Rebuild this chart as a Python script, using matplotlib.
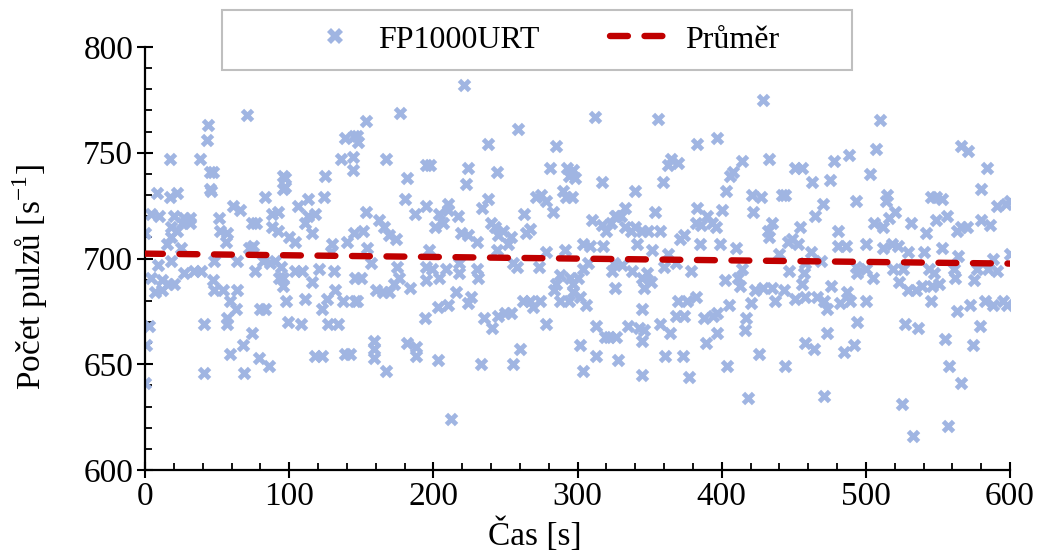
import matplotlib
matplotlib.use('Agg')
import matplotlib.pyplot as plt
from matplotlib.ticker import MultipleLocator
from matplotlib.patches import Rectangle
from matplotlib.lines import Line2D

plt.rcParams['font.family'] = ['Liberation Serif', 'DejaVu Serif']
plt.rcParams['mathtext.fontset'] = 'custom'
plt.rcParams['mathtext.rm'] = 'Liberation Serif'

# ---- data: (time [s], count [1/s]) ----
time_s = [
    0, 0, 1, 2.5, 4.5, 8, 10, 9, 4, 7, 12, 17, 17, 22, 18, 18, 18, 16, 12, 20, 22, 25, 27, 31, 26, 31, 15, 20, 27, 34, 38, 41, 41, 45, 45, 44, 43, 39, 48,
    70.5, 47, 46, 96, 96, 83, 61, 66, 88, 92, 51, 74, 77, 52, 57, 88, 92, 56, 72, 75, 82, 87, 90, 64, 48, 76, 94, 93, 47, 54, 64, 59, 63, 80, 83, 96, 57, 57, 74, 68, 59, 79, 86, 69,
    139, 145, 136, 144, 144, 125, 97, 97, 124, 106, 113, 118, 113, 116, 111, 100, 104, 130, 140, 145, 129, 104, 109, 121, 131, 96, 116, 146, 98, 111, 132, 126, 137, 123, 99, 108, 127, 134, 146, 118, 123, 139, 142,
    177, 153, 147, 148, 167, 195, 182, 180, 187, 195, 153, 162, 166, 151, 154, 169, 174, 157, 150, 175, 176, 173, 195, 195, 184, 160, 165, 169, 147, 194, 159, 159, 159, 182, 188, 188, 167,
    221.5, 237.7, 198, 224, 223, 244, 210, 210, 204, 207, 201, 238, 234, 217, 240, 243, 245, 219, 224, 230, 197, 244, 218, 218, 230, 231, 199, 204, 209, 216, 226, 224, 203, 210, 235, 241, 245, 203, 233, 212,
    258.7, 285, 281, 293, 294, 290, 292, 271, 275, 278, 263, 283, 267, 264, 248, 254, 252, 291, 278, 255, 258, 273, 288, 285, 284, 295, 262, 267, 274, 269, 288, 294, 250, 254, 278, 260, 255,
    312, 297, 298, 296, 317, 340, 333, 327, 310, 317, 320, 323, 326, 330, 333, 337, 340, 345, 341, 304, 309, 318, 307, 304, 300, 297, 324, 325, 331, 338, 345, 326, 297, 302, 306, 345, 313, 319, 322, 327, 335, 343, 345, 302, 313, 328, 304, 345,
    356, 383, 397, 365, 370, 363, 359, 354, 383, 390, 393, 386, 396, 382, 349, 357, 374, 371, 385, 352, 363, 360, 368, 379, 348, 351, 346, 370, 376, 382, 368, 374, 388, 394, 357, 364, 346, 389, 361, 373, 377,
    429, 433, 414, 408, 406, 403, 421, 427, 442, 444, 422, 400, 435, 432, 433, 446, 399, 410, 440, 414, 402, 411, 413, 423, 429, 435, 443, 420, 437, 397, 405, 417, 416, 397, 426, 404, 444, 418,
    488.5, 478, 451, 456, 463, 475, 493, 470, 465, 481, 454, 449, 453, 481, 486, 462, 458, 469, 493, 494, 447, 457, 456, 476, 451, 458, 466, 471, 473, 482, 489, 487, 494, 473, 458, 464, 485, 492, 471,
    509.6, 507, 503, 515, 514, 520, 545, 506, 512, 516, 531, 542, 500, 512, 518, 522, 529, 540, 500, 505, 519, 526, 544, 523, 529, 535, 539, 545, 500, 527, 536, 525, 533,
    566, 571, 584, 580, 591, 597, 600, 549, 553, 556, 549, 566, 570, 563, 580, 586, 553, 564, 588, 600, 577, 575, 547, 551, 546, 561, 562, 591, 585, 583, 588, 595, 598, 572, 563, 579, 574, 555, 558, 566, 557,
]
counts = [
    712, 641, 659, 668, 721, 731, 720, 697, 691, 684, 690, 747, 729, 731, 715, 699, 710, 688, 685, 720, 713, 705, 719, 719, 717, 717, 707, 688, 693, 694, 747, 669, 646, 741, 733, 763, 756, 694, 685,
    768, 741, 732, 739, 733, 729, 725, 723, 721, 722, 719, 717, 717, 713, 712, 715, 713, 708, 705, 706, 699, 698, 699, 699, 699, 694, 696, 691, 690, 685, 685, 680, 676, 676, 676, 687, 669, 672, 665, 659, 655, 653, 649, 646,
    757, 758, 747, 748, 742, 739, 738, 734, 729, 725, 728, 721, 720, 712, 717, 710, 708, 707, 708, 712, 703, 694, 694, 695, 694, 691, 689, 691, 680, 681, 685, 681, 680, 676, 670, 669, 669, 669, 680, 654, 654, 655, 655,
    769, 765, 758, 755, 747, 744, 738, 728, 721, 725, 722, 718, 715, 713, 705, 711, 709, 698, 691, 696, 691, 688, 696, 690, 686, 685, 684, 684, 680, 672, 661, 657, 653, 660, 658, 654, 647,
    782, 754, 744, 743, 735, 741, 726, 723, 721, 717, 715, 728, 724, 720, 717, 715, 711, 712, 711, 708, 704, 704, 698, 693, 695, 691, 695, 691, 695, 684, 682, 679, 677, 678, 672, 667, 673, 652, 650, 624,
    761, 753, 743, 743, 739, 732, 729, 729, 730, 727, 721, 722, 714, 712, 713, 710, 707, 704, 703, 698, 696, 696, 692, 688, 685, 691, 680, 680, 680, 677, 680, 680, 674, 674, 669, 657, 650,
    767, 742, 738, 729, 736, 732, 724, 720, 718, 716, 713, 717, 720, 720, 715, 713, 715, 713, 707, 707, 706, 706, 698, 695, 691, 688, 694, 698, 697, 694, 691, 686, 684, 682, 678, 676, 668, 663, 663, 663, 668, 667, 661, 659, 654, 652, 647, 645,
    766, 754, 757, 747, 745, 744, 736, 722, 724, 720, 717, 716, 715, 717, 713, 713, 711, 709, 707, 704, 702, 696, 698, 694, 693, 689, 686, 680, 680, 682, 673, 673, 672, 673, 669, 665, 666, 660, 654, 654, 644,
    775, 747, 746, 741, 739, 732, 730, 729, 730, 730, 722, 723, 717, 713, 710, 708, 707, 705, 702, 695, 690, 691, 687, 685, 686, 686, 685, 679, 680, 674, 678, 672, 666, 665, 655, 649, 649, 634,
    749, 746, 743, 743, 736, 737, 727, 726, 720, 713, 715, 709, 707, 706, 706, 703, 698, 699, 696, 693, 694, 693, 688, 687, 681, 682, 682, 680, 676, 679, 680, 684, 670, 665, 660, 657, 656, 659, 635,
    765.5, 752, 740, 730, 727, 722, 729, 717, 715, 719, 717, 712, 707, 705, 707, 706, 703, 703, 695, 691, 695, 695, 695, 689, 685, 685, 687, 680, 680, 669, 667, 631, 616,
    753, 751, 743, 733, 725, 726, 727, 729, 728, 720, 718, 715, 715, 713, 718, 716, 705, 701, 700, 702, 695, 690, 693, 688, 687, 695, 691, 694, 695, 680, 678, 680, 678, 678, 675, 668, 659, 662, 649, 641, 621,
]
# average line (endpoints)
mean_t = [0, 600]
mean_v = [702.3, 697.6]

series_label = 'FP1000URT'
mean_label = 'Průměr'
x_label = 'Čas [s]'
y_label = r'Počet pulzů [s$^{\mathregular{-1}}$]'

W, H = 1039, 553
fig = plt.figure(figsize=(W / 100, H / 100), dpi=100)
ax = fig.add_axes([145 / W, 1 - 470 / H, 865 / W, 423 / H])

mcol = '#A0B5E2'
red = '#C00000'
dash = (2.8, 2.6)
ax.scatter(time_s, counts, marker='X', s=95, color=mcol, linewidths=0, zorder=2)
ax.plot(mean_t, mean_v, color=red, lw=4.6, dashes=dash,
        dash_capstyle='round', solid_capstyle='round', zorder=3)

ax.set_xlim(0, 600)
ax.set_ylim(600, 800)
ax.xaxis.set_major_locator(MultipleLocator(100))
ax.yaxis.set_major_locator(MultipleLocator(50))
ax.xaxis.set_minor_locator(MultipleLocator(20))
ax.yaxis.set_minor_locator(MultipleLocator(10))
for s in ['top', 'right']:
    ax.spines[s].set_visible(False)
for s in ['left', 'bottom']:
    ax.spines[s].set_linewidth(1.6)
ax.tick_params(which='major', direction='inout', length=11, width=1.5,
               labelsize=24, pad=3)
ax.tick_params(which='minor', direction='in', length=5, width=1.3)
ax.tick_params(axis='x', pad=3)

ax.set_xlabel(x_label, fontsize=24)
ax.set_ylabel(y_label, fontsize=24)
ax.xaxis.set_label_coords((535 - 145) / 865, (470 - 552) / 423)
ax.xaxis.label.set_verticalalignment('bottom')
ax.yaxis.set_label_coords((30 - 145) / 865, (470 - 277) / 423)
ax.yaxis.label.set_verticalalignment('center')

# legend box
fig.patches.append(Rectangle((222 / W, 1 - 70 / H), 630 / W, 60 / H,
                             transform=fig.transFigure, facecolor='white',
                             edgecolor='#BFBFBF', linewidth=1.5, zorder=5))
h1 = Line2D([], [], marker='X', linestyle='none', markersize=11,
            markerfacecolor=mcol, markeredgewidth=0)
h2 = Line2D([], [], color=red, lw=4.6, dashes=dash, dash_capstyle='round')
leg = fig.legend([h1, h2], [series_label, mean_label], loc='center left',
                 bbox_to_anchor=(303 / W, 1 - 40 / H), ncol=2, frameon=False,
                 fontsize=23, handlelength=2.0, handletextpad=0.35,
                 columnspacing=2.2, borderpad=0, borderaxespad=0)
leg.set_zorder(6)

fig.savefig('out.png', dpi=100)
